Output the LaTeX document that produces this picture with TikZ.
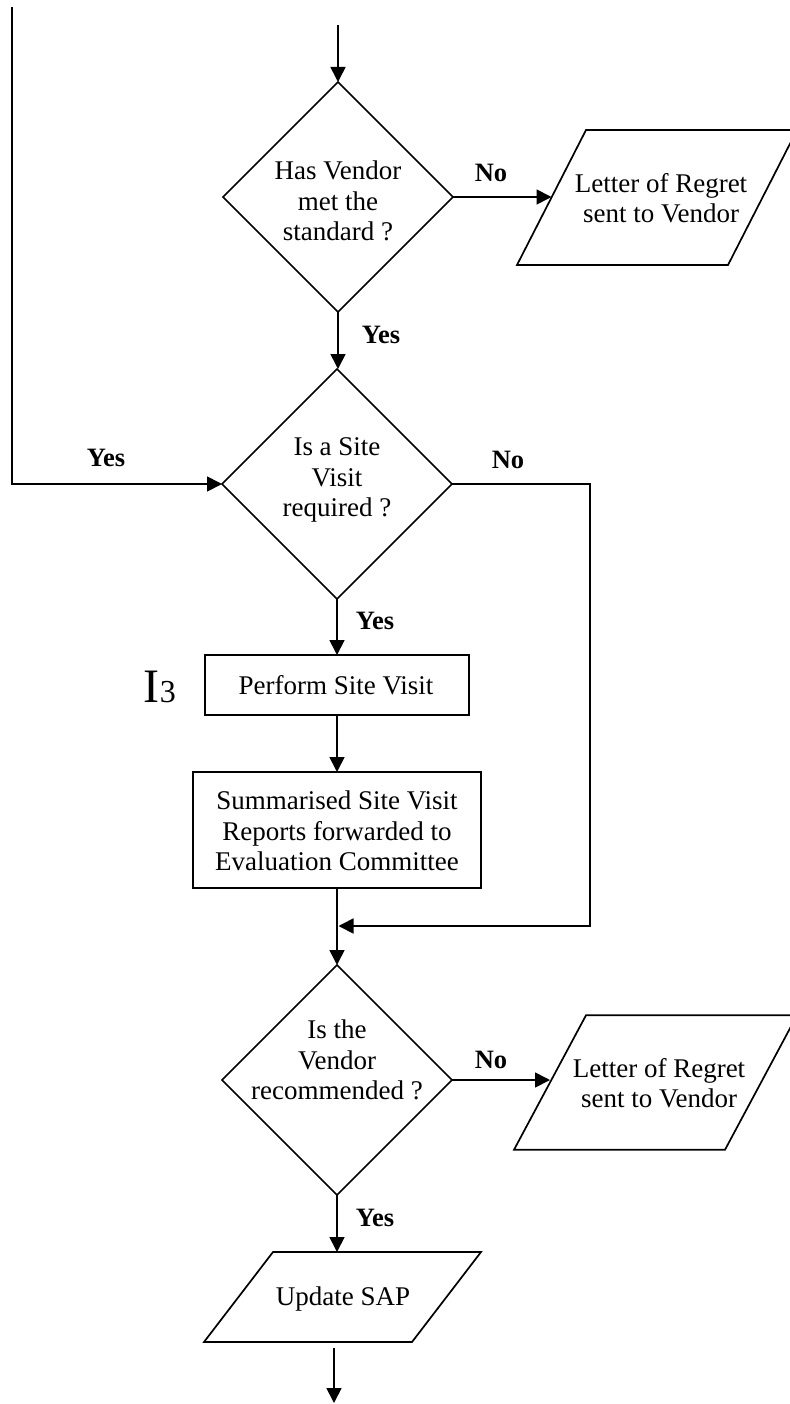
\documentclass[tikz,border=0pt]{standalone}
\usepackage{fontspec}
\setmainfont{Liberation Serif}
\usetikzlibrary{shapes.geometric,arrows.meta}
\begin{document}
\begin{tikzpicture}[x=1pt,y=-1pt,
  line width=1.7pt,
  every node/.style={font=\fontsize{27}{30.5}\selectfont},
  dec/.style={shape=diamond,draw,minimum width=230pt,minimum height=230pt,inner sep=0pt,outer sep=0pt},
  proc/.style={shape=rectangle,draw,inner sep=0pt,outer sep=0pt},
  iobox/.style={shape=rectangle,inner sep=0pt,outer sep=0pt},
  txt/.style={align=center,inner sep=0pt},
  lbl/.style={font=\fontsize{26.5}{30}\selectfont\bfseries,inner sep=0pt},
  arr/.style={-{Triangle[length=15pt,width=15pt]}}
]
\useasboundingbox (0,0) rectangle (789,1404);

% shapes
\node[dec] (d1) at (338,197) {};
\node[txt] (d1t) at (338,201) {Has Vendor\\met the\\standard ?};
\node[iobox,minimum width=280pt,minimum height=135pt] (p1) at (657,197.5) {};
\draw (p1.south west) -- ([xshift=69pt]p1.north west) -- (p1.north east) -- ([xshift=-69pt]p1.south east) -- cycle;
\coordinate (p1w) at ([xshift=34.5pt]p1.west);
\node[txt] (p1t) at (661,198) {Letter of Regret\\sent to Vendor};

\node[dec] (d2) at (337,484) {};
\node[txt] (d2t) at (337,480) {Is a Site\\Visit\\required ?};

\node[proc,minimum width=264pt,minimum height=60pt] (b1) at (337,685) {};
\node[txt] (b1t) at (336,685) {Perform Site Visit};
\node[inner sep=0pt,anchor=base west] (i3) at (143,702) {{\fontsize{48}{48}\selectfont I}{\fontsize{32}{32}\selectfont 3}};

\node[proc,minimum width=288pt,minimum height=116pt] (b2) at (337,830) {};
\node[txt] (b2t) at (337,831) {Summarised Site Visit\\Reports forwarded to\\Evaluation Committee};

\node[dec,minimum height=230pt] (d3) at (337,1080) {};
\node[txt] (d3t) at (337,1060) {Is the\\Vendor\\recommended ?};
\node[iobox,minimum width=283pt,minimum height=134.5pt] (p2) at (655.5,1082.5) {};
\draw (p2.south west) -- ([xshift=72pt]p2.north west) -- (p2.north east) -- ([xshift=-72pt]p2.south east) -- cycle;
\coordinate (p2w) at ([xshift=36pt]p2.west);
\node[txt] (p2t) at (659,1083) {Letter of Regret\\sent to Vendor};

\node[iobox,minimum width=277pt,minimum height=90pt] (p3) at (342.5,1297) {};
\draw (p3.south west) -- ([xshift=69pt]p3.north west) -- (p3.north east) -- ([xshift=-69pt]p3.south east) -- cycle;
\node[txt] (p3t) at (343,1299) {Update SAP};

% coordinates
\coordinate (top) at (338,25);
\coordinate (tl) at (12,7);
\coordinate (rc) at (590,926);
\coordinate (mg) at (338.5,926);
\coordinate (bs) at (334,1348);
\coordinate (be) at (334,1403);

% connectors
\draw[arr] (top) -- (d1.north);
\draw[arr] (d1.east) -- (d1.east -| p1w);
\node[lbl] (n1) at (491,173) {No};
\draw[arr] (d1.south) -- (d1.south |- d2.north);
\node[lbl] (y1) at (381,335) {Yes};
\draw[arr] (tl) |- (d2.west);
\node[lbl] (y2) at (106,458) {Yes};
\draw[arr] (d2.east) -| (rc) -- (mg);
\node[lbl] (n2) at (508,460) {No};
\draw[arr] (d2.south) -- (b1.north);
\node[lbl] (y3) at (375,621) {Yes};
\draw[arr] (b1.south) -- (b2.north);
\draw[arr] (b2.south) -- (d3.north);
\draw[arr] (d3.east) -- (d3.east -| p2w);
\node[lbl] (n3) at (491,1060) {No};
\draw[arr] (d3.south) -- (d3.south |- p3.north);
\node[lbl] (y4) at (375,1218) {Yes};
\draw[arr] (bs) -- (be);
\end{tikzpicture}
\end{document}
